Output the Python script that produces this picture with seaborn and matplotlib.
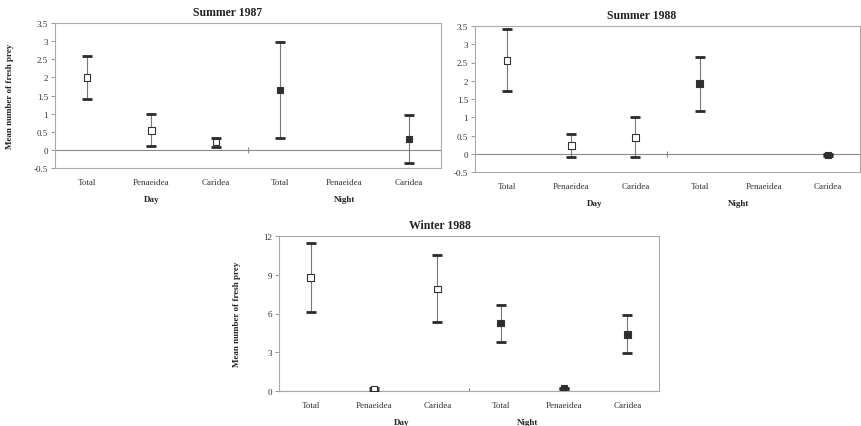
import numpy as np
import pandas as pd
import matplotlib
matplotlib.use("Agg")
import matplotlib.pyplot as plt
import seaborn as sns

nan = np.nan
categories = ["Total", "Penaeidea", "Caridea", "Total", "Penaeidea", "Caridea"]
periods = ["Day", "Day", "Day", "Night", "Night", "Night"]

s87_mean = [2.00, 0.53, 0.22, 1.65, nan, 0.30]
s87_upper = [2.60, 1.00, 0.33, 2.97, nan, 0.95]
s87_lower = [1.40, 0.10, 0.08, 0.33, nan, -0.35]

s88_mean = [2.56, 0.22, 0.45, 1.93, nan, -0.04]
s88_upper = [3.41, 0.55, 1.01, 2.66, nan, -0.01]
s88_lower = [1.72, -0.09, -0.09, 1.18, nan, -0.07]

w88_mean = [8.80, 0.10, 7.90, 5.26, 0.20, 4.38]
w88_upper = [11.45, 0.20, 10.50, 6.68, 0.25, 5.85]
w88_lower = [6.11, 0.00, 5.31, 3.81, 0.15, 2.93]

sns.set_theme(style="white")
plt.rcParams['font.family'] = ['Liberation Serif', 'DejaVu Serif']

fig = plt.figure(figsize=(8.62, 4.27), dpi=100)
ax1 = fig.add_axes([55/862, 1-169/427, 386/862, 145/427])
ax2 = fig.add_axes([475/862, 1-173/427, 385/862, 146/427])
ax3 = fig.add_axes([279/862, 1-392/427, 380/862, 155/427])


def draw(ax, mean, lo, hi, ylim, yticks, title, title_x, ylabel, ylab_x, day_x, night_x):
    df = pd.DataFrame({"x": np.arange(6), "mean": mean, "lo": lo, "hi": hi,
                       "period": periods})
    ax.axhline(0, color="#8a8a8a", lw=0.8, zorder=1)
    ax.plot([2.5], [0], marker='|', ms=5, mew=0.8, color='#8a8a8a', zorder=1)
    ax.vlines(df["x"], df["lo"], df["hi"], color="#777777", lw=0.8, zorder=2)
    for col in ["lo", "hi"]:
        ax.plot(df["x"], df[col], ls="none", marker="_", ms=7, mew=2.0,
                color="#2a2a2a", zorder=3)
    sns.scatterplot(data=df, x="x", y="mean", hue="period",
                    palette={"Day": "white", "Night": "#2e2e2e"},
                    marker="s", s=22, edgecolor="#333333", linewidth=0.8,
                    legend=False, ax=ax, zorder=4)
    ax.set_xlim(-0.5, 5.5)
    ax.set_ylim(*ylim)
    ax.set_xticks(range(6))
    ax.set_xticklabels(categories)
    ax.set_yticks(yticks)
    ax.set_yticklabels(["%g" % v for v in yticks])
    ax.tick_params(axis='x', length=0, pad=7, labelsize=6.5, colors='#333333')
    ax.tick_params(axis='y', left=True, length=3, width=0.6, color='#888888',
                   labelsize=6.5, labelcolor='#333333', direction='out', pad=2)
    ax.set_xlabel("")
    ax.set_ylabel(ylabel, fontsize=6.5, fontweight='bold', color='#222222')
    if ylabel:
        ax.yaxis.set_label_coords(ylab_x, 0.5)
    for sp in ax.spines.values():
        sp.set_visible(True)
        sp.set_color('#aaaaaa')
        sp.set_linewidth(0.8)
    ax.annotate(title, xy=(title_x, 1), xycoords='axes fraction',
                xytext=(0, 8), textcoords='offset points', ha='center',
                va='center', fontsize=8.5, fontweight='bold', color='#222222')
    for lab, xx in [("Day", day_x), ("Night", night_x)]:
        ax.annotate(lab, xy=(xx, 0), xycoords=('data', 'axes fraction'),
                    xytext=(0, -22), textcoords='offset points', ha='center',
                    va='center', fontsize=6.5, fontweight='bold', color='#222222')


draw(ax1, s87_mean, s87_lower, s87_upper, (-0.5, 3.5),
     [-0.5, 0, 0.5, 1, 1.5, 2, 2.5, 3, 3.5], "Summer 1987", 0.446,
     "Mean number of fresh prey", -41/386, 1.0, 4.0)
draw(ax2, s88_mean, s88_lower, s88_upper, (-0.5, 3.5),
     [-0.5, 0, 0.5, 1, 1.5, 2, 2.5, 3, 3.5], "Summer 1988", 0.434,
     "", 0, 1.37, 3.6)
draw(ax3, w88_mean, w88_lower, w88_upper, (0, 12),
     [0, 3, 6, 9, 12], "Winter 1988", 0.424,
     "Mean number of fresh prey", -38/380, 1.44, 3.43)

fig.savefig("out.png", dpi=100, facecolor="white")
